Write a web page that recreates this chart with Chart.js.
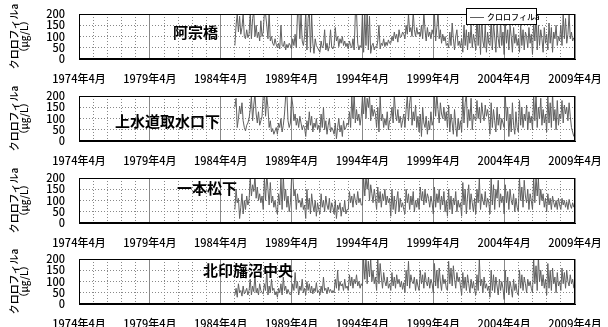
<!DOCTYPE html>
<html lang="ja">
<head>
<meta charset="utf-8">
<title>クロロフィルa 経年変化</title>
<script src="https://cdn.jsdelivr.net/npm/chart.js@4.4.1/dist/chart.umd.min.js"></script>
<style>
  html, body { margin: 0; padding: 0; background: #fff; overflow: hidden; }
  #wrap { position: relative; width: 608px; height: 327px; }
  .panel { position: absolute; left: 0; width: 608px; height: 86px; }
</style>
</head>
<body>
<div id="wrap">
  <div class="panel" style="top:2px"><canvas id="c1"></canvas></div>
  <div class="panel" style="top:84px"><canvas id="c2"></canvas></div>
  <div class="panel" style="top:166px"><canvas id="c3"></canvas></div>
  <div class="panel" style="top:247px"><canvas id="c4"></canvas></div>
</div>
<script>
// x軸の目盛（1974年4月からの月数で 60 か月ごと）
const tickLabels = ['1974年4月', '1979年4月', '1984年4月', '1989年4月', '1994年4月', '1999年4月', '2004年4月', '2009年4月'];
const firstMonth = 132;   // 1985年4月
const lastMonth = 420;    // 2009年4月

// 月1回の測定値 (μg/L)、1行 = 4月〜翌3月
const azusoBashi = [
  60,150,200,120,190,110,140,200,100,90,130,95,
  110,200,90,180,210,100,150,95,120,80,170,100,
  120,210,200,150,90,210,80,100,70,60,90,65,
  50,70,45,150,60,55,80,40,65,50,70,60,
  45,90,60,110,50,200,220,90,200,80,60,100,
  210,40,180,220,30,200,70,25,90,60,50,40,
  30,80,50,60,130,40,70,35,60,130,50,45,
  60,140,80,100,55,90,70,100,60,80,55,70,
  45,80,60,50,90,40,200,210,70,40,60,50,
  210,30,200,60,220,40,190,25,60,70,40,55,
  50,80,150,45,70,60,90,55,75,60,85,70,
  70,100,80,120,90,110,75,130,95,100,120,110,
  90,150,110,200,120,140,100,210,130,100,140,110,
  120,100,150,90,210,130,80,140,100,120,90,130,
  110,200,80,140,210,90,130,70,110,80,100,60,
  70,50,120,60,160,90,40,100,130,60,80,50,
  90,30,150,60,130,40,120,70,150,50,110,80,
  40,200,60,170,20,190,80,50,150,30,120,70,
  60,180,40,160,100,30,150,90,50,170,60,120,
  20,160,70,130,40,150,100,30,140,70,110,60,
  90,30,150,60,130,40,120,100,50,140,70,110,
  20,160,80,200,40,150,60,130,90,30,140,70,
  110,40,160,70,140,30,120,90,150,60,100,80,
  150,60,200,90,180,70,110,200,90,120,80,95
];

const josuiShusuikou = [
  150,190,60,100,155,120,170,90,60,45,70,80,
  100,140,200,90,160,210,120,80,130,70,90,110,
  200,220,110,200,150,60,90,40,55,30,45,60,
  30,80,60,100,40,70,120,200,210,90,60,80,
  200,160,90,120,70,100,60,110,80,50,70,60,
  20,90,50,130,70,110,40,80,60,100,50,70,
  40,120,60,150,50,90,30,70,100,40,60,50,
  30,80,10,60,100,40,70,20,90,50,60,80,
  70,130,60,200,100,210,80,140,90,120,70,110,
  200,120,210,100,190,150,200,90,160,110,140,120,
  60,150,40,200,90,120,60,100,70,130,50,90,
  100,150,80,210,120,90,140,80,110,60,90,120,
  60,140,200,90,170,210,70,130,90,160,60,110,
  40,120,20,150,80,60,110,30,90,50,130,70,
  90,200,110,210,140,80,170,120,100,150,90,130,
  60,160,40,120,80,30,140,70,20,100,50,90,
  40,200,80,170,210,60,140,90,190,50,120,100,
  90,180,100,150,80,170,120,90,160,110,140,100,
  30,170,60,140,90,40,150,70,120,50,100,80,
  60,200,90,150,20,120,40,170,70,30,130,60,
  40,180,70,150,60,120,90,160,50,130,80,110,
  50,200,90,210,60,150,100,190,70,140,80,120,
  40,200,80,170,60,210,90,140,50,180,70,120,
  100,180,80,160,120,150,90,170,110,60,40,20
];

const ipponMatsu = [
  60,150,90,110,20,70,130,40,100,60,120,80,
  100,200,120,170,140,210,110,160,100,130,90,120,
  60,200,100,220,150,80,180,90,120,70,100,60,
  40,130,80,200,60,210,100,150,70,120,50,90,
  200,220,120,150,60,130,90,100,70,110,60,80,
  20,150,60,110,40,130,80,50,100,30,90,60,
  40,130,70,100,50,120,80,60,110,45,90,70,
  40,100,20,80,60,90,30,70,50,100,40,60,
  60,140,90,120,70,130,100,80,140,90,110,80,
  80,200,120,210,150,200,100,170,130,90,150,110,
  60,160,90,140,70,130,100,150,80,120,90,110,
  30,150,60,120,40,100,140,50,110,70,90,60,
  40,150,90,130,60,120,80,140,50,100,70,110,
  60,160,100,140,80,150,90,130,110,70,120,90,
  40,160,70,130,90,150,60,120,80,140,50,100,
  30,150,60,120,40,110,80,140,50,100,70,90,
  30,180,80,150,40,120,170,60,130,90,50,110,
  40,150,90,200,60,130,100,80,140,70,110,90,
  40,200,80,170,60,150,110,190,70,130,90,120,
  40,170,90,140,60,150,100,80,130,50,110,70,
  50,200,100,160,70,190,120,90,150,60,130,100,
  60,200,90,210,120,200,80,150,100,130,70,110,
  50,130,80,110,60,120,90,70,100,60,110,80,
  60,110,80,100,70,95,60,105,80,65,90,70
];

const kitaInbaChuo = [
  40,70,30,90,50,60,35,80,45,55,70,40,
  60,110,40,80,55,130,50,70,40,90,60,50,
  45,90,60,150,40,80,50,110,60,70,40,55,
  30,70,50,90,40,120,60,80,45,65,50,40,
  50,90,60,140,70,100,40,80,60,110,50,70,
  40,100,60,90,50,80,45,70,55,95,50,60,
  40,80,50,120,60,70,45,75,55,65,50,60,
  50,110,70,150,60,100,80,90,60,110,70,80,
  60,130,80,120,70,110,90,130,80,100,70,90,
  80,200,110,210,90,190,120,200,100,150,90,120,
  60,200,90,180,120,70,140,100,80,120,70,90,
  60,140,80,120,70,130,90,110,75,100,65,95,
  50,150,80,190,70,130,100,90,120,60,110,80,
  60,150,90,130,70,140,100,80,120,70,110,90,
  50,180,80,150,70,160,100,60,130,90,110,70,
  60,190,90,160,80,170,110,70,140,100,120,80,
  40,140,70,120,60,130,90,50,110,70,100,60,
  40,130,60,200,80,110,50,120,70,90,60,80,
  30,150,60,130,50,120,80,40,110,60,100,70,
  20,150,50,120,40,100,70,30,110,60,90,50,
  40,150,70,130,60,120,90,50,110,80,100,70,
  50,200,90,170,60,210,100,150,80,130,70,110,
  40,180,70,150,60,160,90,120,50,140,80,100,
  60,160,90,140,70,150,100,80,130,90,110,70
];

const FONT = '"Noto Sans CJK JP", sans-serif';

// 枠線・地点名・凡例
const panelDecor = {
  id: 'panelDecor',
  afterDatasetsDraw(chart, args, opts) {
    const ctx = chart.ctx;
    const a = chart.chartArea;
    ctx.save();
    ctx.strokeStyle = '#000';
    ctx.lineWidth = 1;
    ctx.strokeRect(Math.round(a.left) + 0.5, Math.round(a.top) + 0.5,
      Math.round(a.right - a.left) - 1, Math.round(a.bottom - a.top) - 1);

    ctx.fillStyle = '#000';
    ctx.font = 'bold 15px ' + FONT;
    ctx.textBaseline = 'middle';
    ctx.textAlign = 'left';
    ctx.fillText(opts.text, opts.x, opts.y);

    if (opts.legend) {
      const ds = chart.data.datasets[0];
      ctx.fillStyle = '#fff';
      ctx.fillRect(466, 6, 70, 16);
      ctx.strokeRect(466.5, 6.5, 70, 16);
      ctx.strokeStyle = ds.borderColor;
      ctx.beginPath();
      ctx.moveTo(470, 15.5);
      ctx.lineTo(484, 15.5);
      ctx.stroke();
      ctx.fillStyle = '#000';
      ctx.font = '500 8px ' + FONT;
      ctx.fillText(ds.label, 487, 15);
    }
    ctx.restore();
  }
};

function makePanel(id, values, site, legend) {
  const points = values.map((v, i) => ({ x: firstMonth + i, y: v }));
  return new Chart(document.getElementById(id), {
    type: 'line',
    data: {
      datasets: [{
        label: 'クロロフィルa',
        data: points,
        borderColor: '#606060',
        borderWidth: 1,
        pointRadius: 0,
        tension: 0
      }]
    },
    options: {
      responsive: true,
      maintainAspectRatio: false,
      animation: false,
      layout: { padding: { top: 12, right: 33, left: 0, bottom: 0 } },
      plugins: {
        legend: { display: false },
        tooltip: { enabled: false },
        panelDecor: Object.assign({ legend: legend }, site)
      },
      scales: {
        x: {
          type: 'linear',
          min: 0,
          max: lastMonth,
          // 目盛ラベルのはみ出し分は layout.padding で確保する
          afterFit: s => { s.height = 29; s.paddingLeft = 0; s.paddingRight = 0; },
          ticks: {
            stepSize: 60,
            autoSkip: false,
            maxRotation: 0,
            padding: 13,
            color: '#000',
            font: { family: FONT, size: 11, weight: '500' },
            callback: v => tickLabels[v / 60]
          },
          grid: { color: '#888', drawTicks: false },
          border: { color: '#000' }
        },
        // 1年ごとの点線
        x2: {
          type: 'linear',
          position: 'bottom',
          min: 0,
          max: lastMonth,
          afterFit: s => { s.height = 0; s.paddingLeft = 0; s.paddingRight = 0; },
          ticks: { stepSize: 12, display: false },
          grid: {
            drawTicks: false,
            color: c => (c.tick && c.tick.value % 60 === 0) ? 'rgba(0,0,0,0)' : '#888'
          },
          border: { display: false, dash: [1, 2] }
        },
        y: {
          min: 0,
          max: 200,
          afterFit: s => { s.width = 79; s.paddingTop = 0; s.paddingBottom = 0; },
          ticks: {
            stepSize: 50,
            autoSkip: false,
            padding: 14,
            color: '#000',
            font: { family: FONT, size: 11, weight: '500', lineHeight: 0.8 }
          },
          grid: { color: '#888', drawTicks: false },
          border: { color: '#000', dash: [1, 2] },
          title: {
            display: true,
            text: ['クロロフィルa', '（μg/L）'],
            color: '#000',
            font: { family: FONT, size: 10, weight: '500', lineHeight: 1 },
            padding: { top: 9, bottom: 0 }
          }
        }
      }
    },
    plugins: [panelDecor]
  });
}

function drawAll() {
  makePanel('c1', azusoBashi, { text: '阿宗橋', x: 173, y: 30 }, true);
  makePanel('c2', josuiShusuikou, { text: '上水道取水口下', x: 115, y: 37 }, false);
  makePanel('c3', ipponMatsu, { text: '一本松下', x: 177, y: 22 }, false);
  makePanel('c4', kitaInbaChuo, { text: '北印旛沼中央', x: 203, y: 23 }, false);
}

if (document.fonts && document.fonts.load) {
  document.fonts.load('15px "Noto Sans CJK JP"').then(drawAll, drawAll);
} else {
  drawAll();
}
</script>
</body>
</html>
